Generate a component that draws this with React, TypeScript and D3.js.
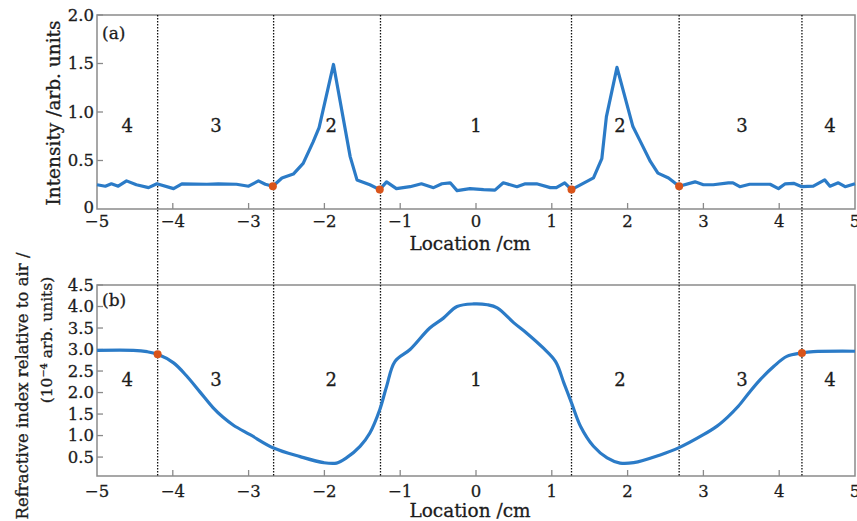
import React from "react";
import * as d3 from "d3";

const intensityX = [-5.0, -4.89, -4.81, -4.72, -4.61, -4.48, -4.32, -4.21, -3.99, -3.88, -3.55, -3.40, -3.16, -3.00, -2.87, -2.78, -2.68, -2.56, -2.41, -2.28, -2.15, -2.07, -1.88, -1.66, -1.57, -1.40, -1.27, -1.18, -1.05, -0.87, -0.72, -0.56, -0.45, -0.34, -0.25, -0.08, 0.10, 0.25, 0.36, 0.54, 0.65, 0.80, 0.98, 1.06, 1.17, 1.26, 1.55, 1.66, 1.72, 1.86, 2.07, 2.16, 2.30, 2.40, 2.54, 2.68, 2.89, 3.00, 3.13, 3.33, 3.39, 3.48, 3.61, 3.88, 3.99, 4.08, 4.19, 4.30, 4.45, 4.60, 4.67, 4.78, 4.87, 5.0];
const intensityY = [0.25, 0.235, 0.26, 0.235, 0.29, 0.25, 0.22, 0.26, 0.21, 0.26, 0.255, 0.26, 0.255, 0.235, 0.29, 0.255, 0.235, 0.32, 0.36, 0.47, 0.69, 0.84, 1.49, 0.54, 0.30, 0.25, 0.20, 0.28, 0.21, 0.23, 0.26, 0.22, 0.26, 0.27, 0.19, 0.21, 0.20, 0.195, 0.27, 0.23, 0.26, 0.26, 0.22, 0.22, 0.27, 0.20, 0.32, 0.52, 0.95, 1.46, 0.85, 0.71, 0.49, 0.37, 0.32, 0.235, 0.28, 0.25, 0.25, 0.27, 0.27, 0.23, 0.255, 0.255, 0.21, 0.26, 0.265, 0.23, 0.235, 0.30, 0.235, 0.27, 0.23, 0.26];

const refX = [-5.0, -4.52, -4.34, -4.20, -3.99, -3.82, -3.64, -3.47, -3.34, -3.20, -2.98, -2.67, -2.32, -2.01, -1.84, -1.71, -1.53, -1.40, -1.27, -1.18, -1.07, -0.87, -0.61, -0.43, -0.25, -0.03, 0.15, 0.28, 0.50, 0.67, 0.89, 1.05, 1.16, 1.26, 1.38, 1.55, 1.73, 1.90, 2.08, 2.43, 2.68, 3.00, 3.18, 3.32, 3.46, 3.60, 3.75, 3.93, 4.10, 4.30, 4.45, 5.0];
const refY = [2.98, 2.98, 2.95, 2.89, 2.69, 2.39, 2.01, 1.65, 1.43, 1.24, 1.02, 0.71, 0.51, 0.37, 0.36, 0.48, 0.75, 1.06, 1.60, 2.14, 2.72, 3.0, 3.50, 3.73, 4.0, 4.06, 4.04, 3.97, 3.62, 3.38, 3.03, 2.72, 2.22, 1.76, 1.21, 0.75, 0.48, 0.36, 0.37, 0.55, 0.72, 1.02, 1.22, 1.43, 1.68, 1.99, 2.30, 2.61, 2.84, 2.92, 2.95, 2.96];

const boundaries = [-4.2, -2.67, -1.26, 1.26, 2.68, 4.3];
const topDotsX = [-2.68, -1.27, 1.26, 2.68];
const topDotsY = [0.235, 0.20, 0.20, 0.235];
const botDotsX = [-4.2, 4.3];
const botDotsY = [2.89, 2.92];

const regionLabels = ["4", "3", "2", "1", "2", "3", "4"];
const regionLabelX = [-4.6, -3.43, -1.91, 0, 1.9, 3.51, 4.67];

const xTicks = [-5, -4, -3, -2, -1, 0, 1, 2, 3, 4, 5];
const topYTicks = [0, 0.5, 1.0, 1.5, 2.0];
const topYTickLabels = ["0", "0.5", "1.0", "1.5", "2.0"];
const botYTicks = [0.5, 1.0, 1.5, 2.0, 2.5, 3.0, 3.5, 4.0, 4.5];

const FONT = "DejaVu Serif";
const BLUE = "#2b7bc7";
const RED = "#d9541a";
const AXIS = "#8a8a8a";
const INK = "#1c1c1c";
const txt = { fontFamily: FONT, fill: INK, stroke: INK, strokeWidth: 0.3 };

const fmtX = (v: number) => (v < 0 ? "\u2212" + Math.abs(v) : String(v));

export default function App() {
  const left = 97, right = 855;
  const x = d3.scaleLinear().domain([-5, 5]).range([left, right]);
  const yTop = d3.scaleLinear().domain([0, 2]).range([209, 15]);
  const yBot = d3.scaleLinear().domain([0.06, 4.5]).range([476, 285]);

  const topLine = d3
    .line<number>()
    .x((_, i) => x(intensityX[i]))
    .y((d) => yTop(d))
    .curve(d3.curveLinear)(intensityY) as string;

  const botLine = d3
    .line<number>()
    .x((_, i) => x(refX[i]))
    .y((d) => yBot(d))
    .curve(d3.curveCatmullRom.alpha(0.5))(refY) as string;

  const tickLen = 6;

  const panel = (
    yScale: d3.ScaleLinear<number, number>,
    yTicks: number[],
    yLabels: string[],
    tickLabelY: number
  ) => {
    const [y0, y1] = yScale.range();
    return (
      <g>
        <rect x={left} y={y1} width={right - left} height={y0 - y1} fill="none" stroke={AXIS} strokeWidth={1.5} />
        {xTicks.map((t) => (
          <g key={"xt" + t}>
            {t > -5 && t < 5 && (
              <line x1={x(t)} x2={x(t)} y1={y0} y2={y0 - tickLen} stroke={AXIS} strokeWidth={1.3} />
            )}
            <text x={x(t)} y={tickLabelY} textAnchor="middle" fontSize={16.5} {...txt}>
              {fmtX(t)}
            </text>
          </g>
        ))}
        {yTicks.map((t, i) => (
          <g key={"yt" + t}>
            {yScale(t) < y0 - 1 ? (
              <line x1={left} x2={left + tickLen} y1={yScale(t)} y2={yScale(t)} stroke={AXIS} strokeWidth={1.3} />
            ) : null}
            <text x={left - 3} y={yScale(t) - (yScale(t) >= y0 - 1 ? 2 : 0)} dy="0.35em" textAnchor="end" fontSize={16.5} {...txt}>
              {yLabels[i]}
            </text>
          </g>
        ))}
      </g>
    );
  };

  return (
    <svg width={857} height={521} style={{ position: "absolute", left: 0, top: 0, background: "#fff" }}>
      <rect x={0} y={0} width={857} height={521} fill="#fff" />
      {panel(yTop, topYTicks, topYTickLabels, 227)}
      {panel(yBot, botYTicks, botYTicks.map((v) => v.toFixed(1)), 497)}

      {boundaries.map((b) => (
        <line key={"b" + b} x1={x(b)} x2={x(b)} y1={15} y2={476} stroke="#111" strokeWidth={1.3} strokeDasharray="1.5,1.5" />
      ))}

      {regionLabels.map((l, i) => (
        <g key={"rl" + i}>
          <text x={x(regionLabelX[i])} y={yTop(0.86)} dy="0.35em" textAnchor="middle" fontSize={18} {...txt}>
            {l}
          </text>
          <text x={x(regionLabelX[i])} y={yBot(2.3)} dy="0.35em" textAnchor="middle" fontSize={18} {...txt}>
            {l}
          </text>
        </g>
      ))}

      <path d={topLine} fill="none" stroke={BLUE} strokeWidth={3.2} strokeLinejoin="round" />
      <path d={botLine} fill="none" stroke={BLUE} strokeWidth={3.2} strokeLinejoin="round" />

      {topDotsX.map((d, i) => (
        <circle key={"td" + i} cx={x(d)} cy={yTop(topDotsY[i])} r={4} fill={RED} />
      ))}
      {botDotsX.map((d, i) => (
        <circle key={"bd" + i} cx={x(d)} cy={yBot(botDotsY[i])} r={4} fill={RED} />
      ))}

      <text x={102} y={33} dy="0.35em" fontSize={17} {...txt}>(a)</text>
      <text x={102} y={300} dy="0.35em" fontSize={17} {...txt}>(b)</text>

      <text x={470} y={250} textAnchor="middle" fontSize={18.5} {...txt}>Location /cm</text>
      <text x={470} y={517} textAnchor="middle" fontSize={18.5} {...txt}>Location /cm</text>

      <text transform="translate(54,113) rotate(-90)" textAnchor="middle" dy="0.35em" fontSize={18.5} {...txt}>
        Intensity /arb. units
      </text>
      <text transform="translate(22,386) rotate(-90)" textAnchor="middle" dy="0.35em" fontSize={16.5} {...txt}>
        Refractive index relative to air /
      </text>
      <text transform="translate(47,340) rotate(-90)" textAnchor="middle" dy="0.35em" fontSize={15.5} {...txt}>
        (10⁻⁴ arb. units)
      </text>
    </svg>
  );
}
